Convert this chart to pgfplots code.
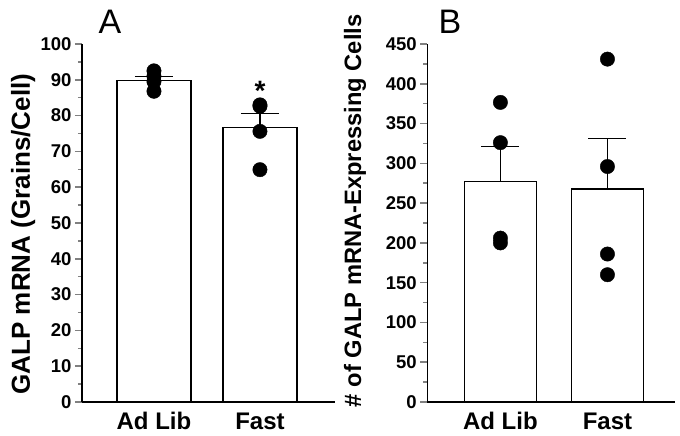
\documentclass[border=0pt]{standalone}
\usepackage{pgfplots}
\pgfplotsset{compat=1.18}
\usepackage{fontspec}
\setmainfont{Liberation Sans}

\pgfplotsset{
  galp/.style={
    scale only axis,
    axis lines=left,
    axis line style={-, line width=1.6pt},
    xtick={1,2},
    xticklabels={Ad Lib, Fast},
    xtick style={draw=none},
    tick align=outside,
    major tick length=7pt,
    minor tick length=4pt,
    ytick style={line width=1.5pt},
    minor y tick num=1,
    /pgf/number format/assume math mode=true,
    tick label style={font=\fontsize{18.5}{20}\selectfont\bfseries},
    xticklabel style={font=\fontsize{24}{26}\selectfont\bfseries},
    clip=false,
  },
  bars/.style={ybar, fill=white, draw=black, line width=1.6pt,
    error bars/y dir=plus, error bars/y explicit,
    error bars/error bar style={line width=1.6pt},
    error bars/error mark options={rotate=90, line width=1.6pt, mark size=19pt}},
  dots/.style={only marks, mark=*, mark size=7.2pt, black},
}

\begin{document}
\begin{tikzpicture}
\path[use as bounding box] (0,0) rectangle (680pt,-436pt);

% panel A
\begin{axis}[galp,
  at={(82pt,-402pt)}, anchor=south west,
  width=253pt, height=358pt,
  xmin=0.321, xmax=2.708,
  ymin=0, ymax=100,
  ytick={0,10,...,100},
  ylabel={GALP mRNA (Grains/Cell)},
  ylabel style={font=\fontsize{26}{28}\selectfont\bfseries,
    at={(axis description cs:-0.233,0.469)}, anchor=center},
]
\addplot[bar width=74pt, bars] coordinates {(1,89.8) +- (0,1.1) (2,76.7) +- (0,3.9)};
\addplot[dots] coordinates {(1,92.5) (1,91.0) (1,89.5) (1,86.8)
  (2,83.0) (2,82.6) (2,75.6) (2,64.9)};
\node[font=\fontsize{28}{30}\selectfont\bfseries] at (axis cs:2,86.8) {*};
\node[font=\fontsize{34}{36}\selectfont] at (axis description cs:0.111,1.061) {A};
\end{axis}

% panel B
\begin{axis}[galp,
  at={(427.3pt,-402pt)}, anchor=south west,
  width=248pt, height=358pt,
  xmin=0.317, xmax=2.634,
  ymin=0, ymax=450,
  ytick={0,50,...,450},
  ylabel={\# of GALP mRNA-Expressing Cells},
  ylabel style={font=\fontsize{23.7}{26}\selectfont\bfseries,
    at={(axis description cs:-0.2915,0.534)}, anchor=center},
]
\addplot[bar width=72pt, bars] coordinates {(1,277) +- (0,44) (2,268) +- (0,63)};
\addplot[dots] coordinates {(1,376.6) (1,326) (1,206) (1,200)
  (2,431) (2,296) (2,186) (2,160)};
\node[font=\fontsize{34}{36}\selectfont] at (axis description cs:0.0915,1.061) {B};
\end{axis}
\end{tikzpicture}
\end{document}
